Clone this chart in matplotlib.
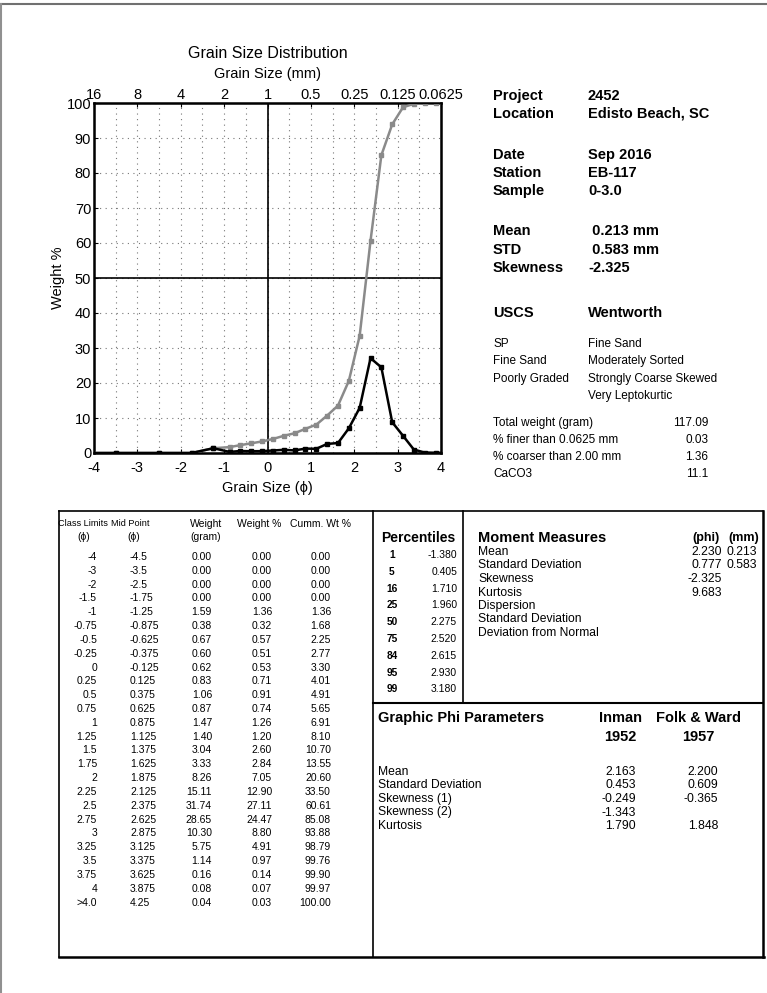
import numpy as np
import matplotlib
matplotlib.use("Agg")
import matplotlib.pyplot as plt
from matplotlib.lines import Line2D
from matplotlib.ticker import MultipleLocator

plt.rcParams['font.family'] = ['Liberation Sans Narrow', 'Liberation Sans', 'DejaVu Sans']
plt.rcParams['axes.unicode_minus'] = False

# --- data ---------------------------------------------------------------------
class_limits = ["-4", "-3", "-2", "-1.5", "-1", "-0.75", "-0.5", "-0.25", "0", "0.25",
                "0.5", "0.75", "1", "1.25", "1.5", "1.75", "2", "2.25", "2.5", "2.75",
                "3", "3.25", "3.5", "3.75", "4", ">4.0"]
mid_phi = [-4.5, -3.5, -2.5, -1.75, -1.25, -0.875, -0.625, -0.375, -0.125, 0.125,
           0.375, 0.625, 0.875, 1.125, 1.375, 1.625, 1.875, 2.125, 2.375, 2.625,
           2.875, 3.125, 3.375, 3.625, 3.875, 4.25]
weight_g = [0.00, 0.00, 0.00, 0.00, 1.59, 0.38, 0.67, 0.60, 0.62, 0.83,
            1.06, 0.87, 1.47, 1.40, 3.04, 3.33, 8.26, 15.11, 31.74, 28.65,
            10.30, 5.75, 1.14, 0.16, 0.08, 0.04]
weight_pct = [0.00, 0.00, 0.00, 0.00, 1.36, 0.32, 0.57, 0.51, 0.53, 0.71,
              0.91, 0.74, 1.26, 1.20, 2.60, 2.84, 7.05, 12.90, 27.11, 24.47,
              8.80, 4.91, 0.97, 0.14, 0.07, 0.03]
cum_pct = [0.00, 0.00, 0.00, 0.00, 1.36, 1.68, 2.25, 2.77, 3.30, 4.01,
           4.91, 5.65, 6.91, 8.10, 10.70, 13.55, 20.60, 33.50, 60.61, 85.08,
           93.88, 98.79, 99.76, 99.90, 99.97, 100.00]

phi_ticks = [-4, -3, -2, -1, 0, 1, 2, 3, 4]
mm_labels = ["16", "8", "4", "2", "1", "0.5", "0.25", "0.125", "0.0625"]

info_top = [("Project", "2452"), ("Location", "Edisto Beach, SC")]
info_mid = [("Date", "Sep 2016"), ("Station", "EB-117"), ("Sample", "0-3.0")]
info_stats = [("Mean", " 0.213 mm"), ("STD", " 0.583 mm"), ("Skewness", "-2.325")]
uscs = ["SP", "Fine Sand", "Poorly Graded"]
wentworth = ["Fine Sand", "Moderately Sorted", "Strongly Coarse Skewed", "Very Leptokurtic"]
extra_labels = ["Total weight (gram)", "% finer than 0.0625 mm", "% coarser than 2.00 mm", "CaCO3"]
extra_values = ["117.09", "0.03", "1.36", "11.1"]

pct_levels = [1, 5, 16, 25, 50, 75, 84, 95, 99]
pct_phi = [-1.380, 0.405, 1.710, 1.960, 2.275, 2.520, 2.615, 2.930, 3.180]

moment_labels = ["Mean", "Standard Deviation", "Skewness", "Kurtosis", "Dispersion",
                 "Standard Deviation", "Deviation from Normal"]
moment_phi = [2.230, 0.777, -2.325, 9.683]
moment_mm = [0.213, 0.583]

graphic_labels = ["Mean", "Standard Deviation", "Skewness (1)", "Skewness (2)", "Kurtosis"]
inman = [2.163, 0.453, -0.249, -1.343, 1.790]
folk_ward = [2.200, 0.609, -0.365, None, 1.848]

# --- figure -------------------------------------------------------------------
W, H = 767, 993
fig = plt.figure(figsize=(W / 100, H / 100), dpi=100)


def fx(x): return x / W
def fy(y): return 1 - y / H


def txt(x, y, s, size=8, weight="normal", ha="left", **kw):
    fig.text(fx(x), fy(y), s, fontsize=size, fontweight=weight, ha=ha, va="center", **kw)


def hline(x0, x1, y, lw=1.2, color="k"):
    fig.add_artist(Line2D([fx(x0), fx(x1)], [fy(y), fy(y)], lw=lw, color=color))


def vline(x, y0, y1, lw=1.2, color="k"):
    fig.add_artist(Line2D([fx(x), fx(x)], [fy(y0), fy(y1)], lw=lw, color=color))


# page frame
hline(0, W, 4, lw=1.5, color="#707070")
vline(1, 4, H, lw=1.5, color="#909090")

# chart
ax = fig.add_axes([fx(94), fy(453), fx(441) - fx(94), fy(103) - fy(453)])
ax.plot(mid_phi, cum_pct, color="#8a8a8a", lw=1.8, marker="s", ms=3.5, clip_on=True, zorder=3)
ax.plot(mid_phi, weight_pct, color="k", lw=1.8, marker="s", ms=3.5, clip_on=True, zorder=4)
ax.axvline(0, color="k", lw=1.2, zorder=2)
ax.axhline(50, color="k", lw=1.2, zorder=2)
ax.set_xlim(-4, 4)
ax.set_ylim(0, 100)
ax.set_xticks(phi_ticks)
ax.xaxis.set_minor_locator(MultipleLocator(0.5))
ax.yaxis.set_major_locator(MultipleLocator(10))
ax.grid(True, which="both", ls=(0, (1, 4)), color="#777777", lw=0.8)
ax.tick_params(labelsize=10.5, direction="in", length=3)
ax.tick_params(axis="x", pad=6)
ax.tick_params(axis="y", pad=2)
ax.tick_params(which="minor", length=0)
for s in ax.spines.values():
    s.set_linewidth(1.8)
ax.set_xlabel("Grain Size (\u03d5)", fontsize=10.5, labelpad=4)
ax.set_ylabel("Weight %", fontsize=10.5, labelpad=1)

top = ax.twiny()
top.set_xlim(ax.get_xlim())
top.set_xticks(phi_ticks)
top.set_xticklabels(mm_labels)
top.tick_params(labelsize=10.5, direction="in", length=3, pad=1)
txt(268, 74, "Grain Size (mm)", 10.5, ha="center")
txt(268, 53, "Grain Size Distribution", 11.5, ha="center")

# info panel
lx, vx = 493, 588
for (lab, val), y in zip(info_top, [96, 114]):
    txt(lx, y, lab, 10.5, "bold"); txt(vx, y, val, 10.5, "bold")
for (lab, val), y in zip(info_mid, [155, 173, 191]):
    txt(lx, y, lab, 10.5, "bold"); txt(vx, y, val, 10.5, "bold")
for (lab, val), y in zip(info_stats, [231, 250, 268]):
    txt(lx, y, lab, 10.5, "bold"); txt(vx, y, val, 10.5, "bold")
txt(lx, 313, "USCS", 10.5, "bold"); txt(vx, 313, "Wentworth", 10.5, "bold")
for i, s in enumerate(uscs):
    txt(lx, 344 + 17.3 * i, s, 8.5)
for i, s in enumerate(wentworth):
    txt(vx, 344 + 17.3 * i, s, 8.5)
for i, (lab, val) in enumerate(zip(extra_labels, extra_values)):
    txt(lx, 423 + 17 * i, lab, 8.5)
    txt(708, 423 + 17 * i, val, 8.5, ha="right")

# table frame
L, T, R, B = 59, 511, 763, 957
hline(L, R, T); hline(L, R + 1, B, lw=1.8)
vline(L, T, B); vline(R, T, B, lw=1.8)
vline(373, T, B)
vline(463, T, 703)
hline(373, R, 703, lw=1.5)

# grain size table
ts = 7.5
txt(83, 524, "Class Limits", 6.6, ha="center")
txt(130, 524, "Mid Point", 6.6, ha="center")
txt(206, 524, "Weight", ts, ha="center")
txt(259, 524, "Weight %", ts, ha="center")
txt(320, 524, "Cumm. Wt %", ts, ha="center")
txt(84, 537, "(\u03d5)", ts, ha="center")
txt(134, 537, "(\u03d5)", ts, ha="center")
txt(206, 537, "(gram)", ts, ha="center")
row0, dy = 557, 13.82
for i in range(len(class_limits)):
    y = row0 + dy * i
    txt(97, y, class_limits[i], ts, ha="right")
    txt(130, y, f"{mid_phi[i]:g}", ts, ha="left")
    txt(212, y, f"{weight_g[i]:.2f}", ts, ha="right")
    txt(272, y, f"{weight_pct[i]:.2f}", ts, ha="right")
    txt(331, y, f"{cum_pct[i]:.2f}", ts, ha="right")

# percentiles
txt(418, 538, "Percentiles", 10, "bold", ha="center")
for i, (p, v) in enumerate(zip(pct_levels, pct_phi)):
    y = 555 + 16.8 * i
    txt(392, y, str(p), 7.3, "bold", ha="center")
    txt(457, y, f"{v:.3f}", 7.5, ha="right")

# moment measures
txt(478, 538, "Moment Measures", 10.5, "bold")
txt(706, 538, "(phi)", 9, "bold", ha="center")
txt(744, 538, "(mm)", 9, "bold", ha="center")
for i, lab in enumerate(moment_labels):
    txt(478, 552 + 13.5 * i, lab, 8.7)
for i, v in enumerate(moment_phi):
    txt(722, 552 + 13.5 * i, f"{v:.3f}", 8.7, ha="right")
for i, v in enumerate(moment_mm):
    txt(757, 552 + 13.5 * i, f"{v:.3f}", 8.7, ha="right")

# graphic phi parameters
txt(378, 718, "Graphic Phi Parameters", 10.5, "bold")
txt(620, 718, "Inman", 10.5, "bold", ha="center")
txt(620, 737, "1952", 10.5, "bold", ha="center")
txt(698, 718, "Folk & Ward", 10.5, "bold", ha="center")
txt(698, 737, "1957", 10.5, "bold", ha="center")
for i, lab in enumerate(graphic_labels):
    y = 772 + 13.5 * i
    txt(378, y, lab, 8.7)
    txt(636, y, f"{inman[i]:.3f}", 8.7, ha="right")
    if folk_ward[i] is not None:
        txt(718, y, f"{folk_ward[i]:.3f}", 8.7, ha="right")

fig.savefig("out.png", dpi=100)
